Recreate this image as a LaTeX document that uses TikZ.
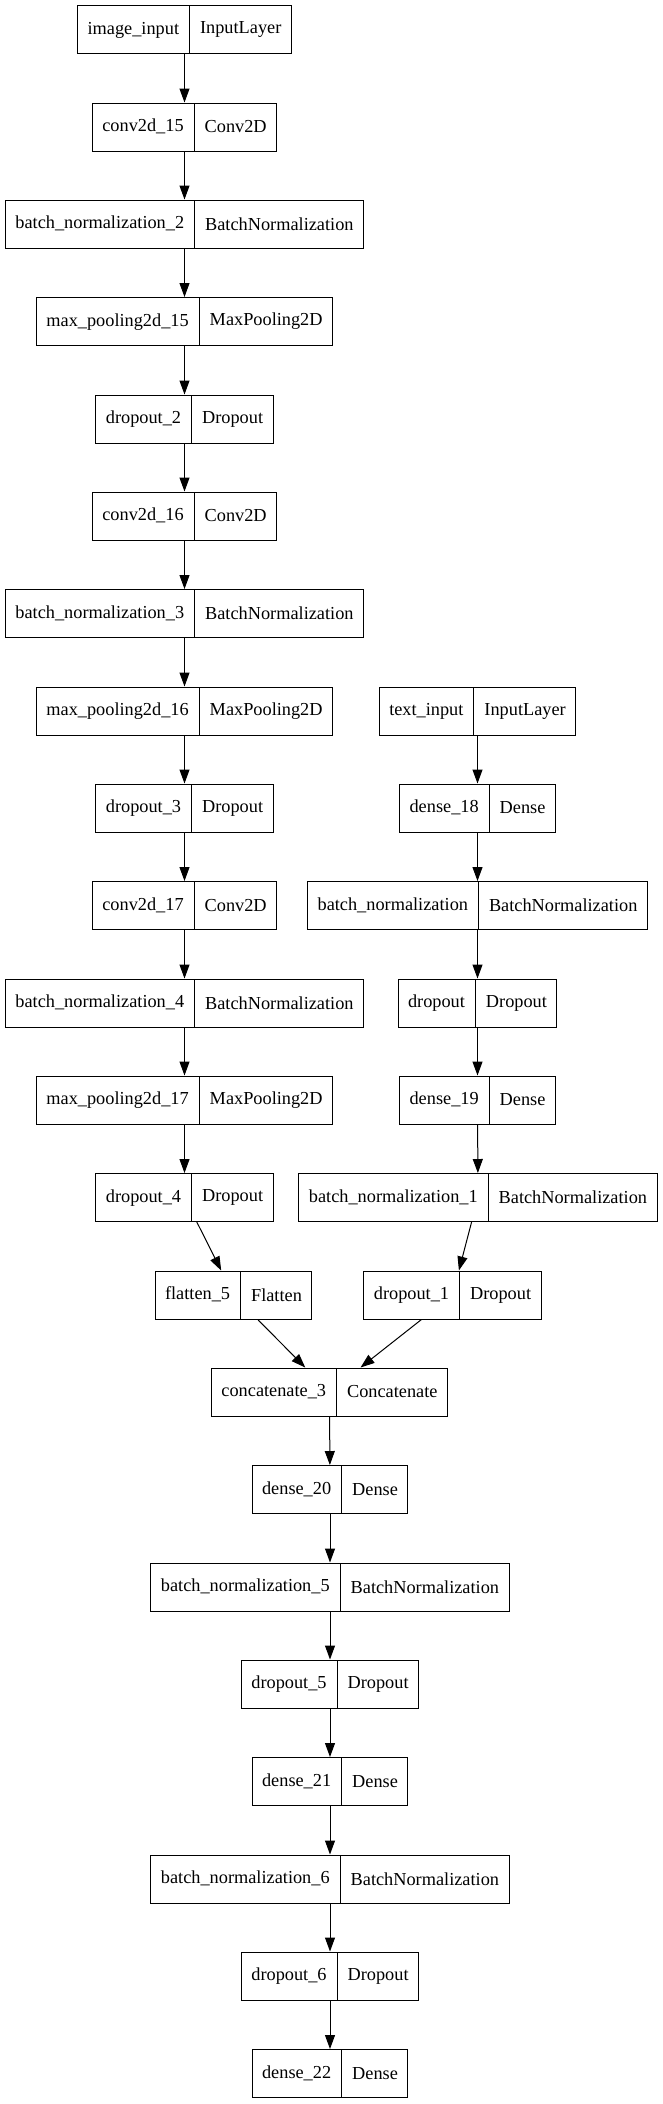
\documentclass[tikz,border=0pt]{standalone}
\usepackage{fontspec}
\setmainfont{Liberation Serif}
\usetikzlibrary{shapes.multipart,arrows.meta}
\tikzset{
    layer/.style={draw, line width=1pt, rectangle split, rectangle split horizontal,
        rectangle split parts=2, inner xsep=10pt, inner ysep=0pt, minimum height=48pt,
        text height=13pt, text depth=4pt, font=\fontsize{18.3}{22}\selectfont},
    edge/.style={-{Triangle[length=14pt,width=10pt]}, line width=1pt}
}
\begin{document}
\begin{tikzpicture}[x=1pt,y=-1pt]
    \useasboundingbox (0,0) rectangle (663,2104);
    % image branch
    \node[layer] (in)   at (184.5,29.5)   {image\_input \nodepart{two} InputLayer};
    \node[layer] (c15)  at (184.5,127)    {conv2d\_15 \nodepart{two} Conv2D};
    \node[layer] (bn2)  at (184.5,224)    {batch\_normalization\_2 \nodepart{two} BatchNormalization};
    \node[layer] (mp15) at (184.5,321.5)  {max\_pooling2d\_15 \nodepart{two} MaxPooling2D};
    \node[layer] (do2)  at (184.5,419)    {dropout\_2 \nodepart{two} Dropout};
    \node[layer] (c16)  at (184.5,516)    {conv2d\_16 \nodepart{two} Conv2D};
    \node[layer] (bn3)  at (184.5,613.5)  {batch\_normalization\_3 \nodepart{two} BatchNormalization};
    \node[layer] (mp16) at (184.5,711)    {max\_pooling2d\_16 \nodepart{two} MaxPooling2D};
    \node[layer] (do3)  at (184.5,808)    {dropout\_3 \nodepart{two} Dropout};
    \node[layer] (c17)  at (184.5,905.5)  {conv2d\_17 \nodepart{two} Conv2D};
    \node[layer] (bn4)  at (184.5,1003)   {batch\_normalization\_4 \nodepart{two} BatchNormalization};
    \node[layer] (mp17) at (184.5,1100)   {max\_pooling2d\_17 \nodepart{two} MaxPooling2D};
    \node[layer] (do4)  at (184.5,1197.5) {dropout\_4 \nodepart{two} Dropout};
    \node[layer] (fl5)  at (233.5,1295)   {flatten\_5 \nodepart{two} Flatten};
    % text branch
    \node[layer] (tin)  at (477.5,711)    {text\_input \nodepart{two} InputLayer};
    \node[layer] (d18)  at (477.5,808)    {dense\_18 \nodepart{two} Dense};
    \node[layer] (bn)   at (477.5,905.5)  {batch\_normalization \nodepart{two} BatchNormalization};
    \node[layer] (do)   at (477.5,1003)   {dropout \nodepart{two} Dropout};
    \node[layer] (d19)  at (477.5,1100)   {dense\_19 \nodepart{two} Dense};
    \node[layer] (bn1)  at (478,1197.5)   {batch\_normalization\_1 \nodepart{two} BatchNormalization};
    \node[layer] (do1)  at (452.5,1295)   {dropout\_1 \nodepart{two} Dropout};
    % merged head
    \node[layer] (cat3) at (329.5,1392)   {concatenate\_3 \nodepart{two} Concatenate};
    \node[layer] (d20)  at (330,1489.5)   {dense\_20 \nodepart{two} Dense};
    \node[layer] (bn5)  at (330,1587)     {batch\_normalization\_5 \nodepart{two} BatchNormalization};
    \node[layer] (do5)  at (330,1684)     {dropout\_5 \nodepart{two} Dropout};
    \node[layer] (d21)  at (330,1781.5)   {dense\_21 \nodepart{two} Dense};
    \node[layer] (bn6)  at (330,1879)     {batch\_normalization\_6 \nodepart{two} BatchNormalization};
    \node[layer] (do6)  at (330,1976)     {dropout\_6 \nodepart{two} Dropout};
    \node[layer] (d22)  at (330,2073.5)   {dense\_22 \nodepart{two} Dense};
    % connections
    \foreach \a/\b in {in/c15, c15/bn2, bn2/mp15, mp15/do2, do2/c16, c16/bn3, bn3/mp16,
        mp16/do3, do3/c17, c17/bn4, bn4/mp17, mp17/do4, do4/fl5,
        tin/d18, d18/bn, bn/do, do/d19, d19/bn1, bn1/do1,
        fl5/cat3, do1/cat3, cat3/d20, d20/bn5, bn5/do5, do5/d21, d21/bn6, bn6/do6, do6/d22} {
        \draw[edge] (\a) -- (\b);
    }
\end{tikzpicture}
\end{document}
